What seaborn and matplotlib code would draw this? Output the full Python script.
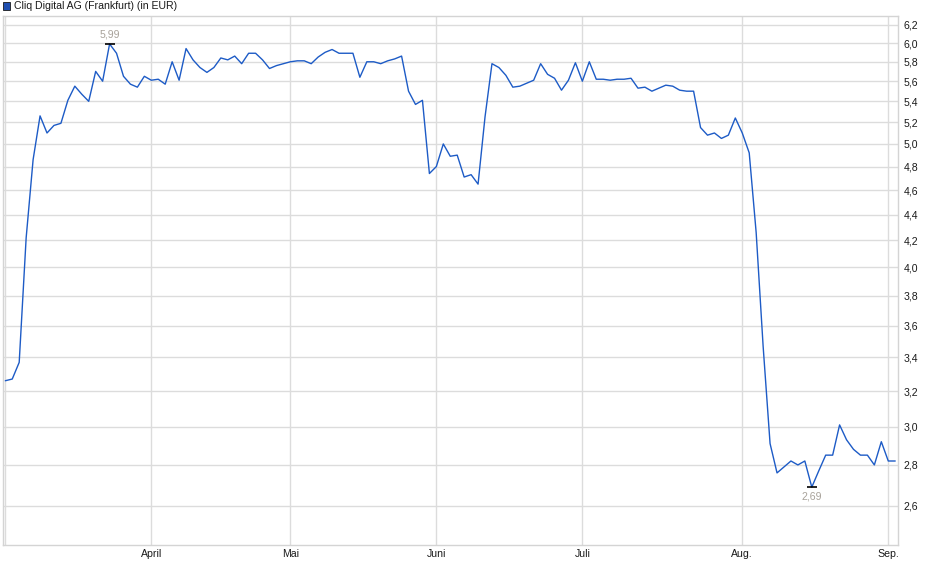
import numpy as np
import pandas as pd
import matplotlib
matplotlib.use("Agg")
import matplotlib.pyplot as plt
import seaborn as sns
from matplotlib.ticker import FixedLocator, NullLocator
from matplotlib.patches import Rectangle

# Schlusskurse (EUR), ein Wert pro Handelstag
prices = [3.26, 3.27, 3.37, 4.22, 4.86, 5.26, 5.10, 5.17, 5.19, 5.41,
          5.55, 5.47, 5.40, 5.70, 5.60, 5.99, 5.89, 5.65, 5.57, 5.54,
          5.65, 5.61, 5.62, 5.57, 5.80, 5.61, 5.94, 5.82, 5.74, 5.69,
          5.74, 5.84, 5.82, 5.86, 5.78, 5.89, 5.89, 5.82, 5.73, 5.76,
          5.78, 5.80, 5.81, 5.81, 5.78, 5.85, 5.90, 5.93, 5.89, 5.89,
          5.89, 5.64, 5.80, 5.80, 5.78, 5.81, 5.83, 5.86, 5.50, 5.37,
          5.41, 4.74, 4.80, 5.00, 4.89, 4.90, 4.71, 4.73, 4.65, 5.25,
          5.78, 5.74, 5.66, 5.54, 5.55, 5.58, 5.61, 5.78, 5.67, 5.63,
          5.51, 5.61, 5.79, 5.60, 5.80, 5.62, 5.62, 5.61, 5.62, 5.62,
          5.63, 5.53, 5.54, 5.50, 5.53, 5.56, 5.55, 5.51, 5.50, 5.50,
          5.15, 5.08, 5.10, 5.05, 5.08, 5.24, 5.10, 4.92, 4.26, 3.47,
          2.91, 2.76, 2.79, 2.82, 2.80, 2.82, 2.69, 2.77, 2.85, 2.85,
          3.01, 2.93, 2.88, 2.85, 2.85, 2.80, 2.92, 2.82, 2.82]

month_labels = ["April", "Mai", "Juni", "Juli", "Aug.", "Sep."]
month_start = [21, 41, 62, 83, 106, 127]   # index of first trading day
y_ticks = [2.6, 2.8, 3.0, 3.2, 3.4, 3.6, 3.8, 4.0, 4.2, 4.4,
           4.6, 4.8, 5.0, 5.2, 5.4, 5.6, 5.8, 6.0, 6.2]

df = pd.DataFrame({"tag": np.arange(len(prices)), "kurs": prices})

sns.set_style("white")
plt.rcParams["font.family"] = ["Liberation Sans", "DejaVu Sans"]

fig = plt.figure(figsize=(9.4, 5.79), dpi=100)
ax = fig.add_axes([3 / 940, 34 / 579, 895 / 940, 529 / 579])

sns.lineplot(data=df, x="tag", y="kurs", color="#1d5bc6", linewidth=1.0, ax=ax)

ax.set_yscale("log")
ax.set_ylim(2.423, 6.30)
ax.set_xlim(-0.33, 128.4)
ax.yaxis.set_major_locator(FixedLocator(y_ticks))
ax.yaxis.set_minor_locator(NullLocator())
ax.set_yticklabels([f"{t:.1f}".replace(".", ",") for t in y_ticks])
ax.yaxis.tick_right()
ax.set_xticks([0] + month_start)
ax.set_xticklabels([""] + month_labels)
ax.set_xlabel("")
ax.set_ylabel("")

ax.grid(True, color="#dcdcdc", linewidth=1.0)
ax.tick_params(axis="both", length=0, labelsize=7.6, colors="#1a1a1a")
ax.tick_params(axis="y", pad=4)
ax.tick_params(axis="x", pad=3)
for s in ax.spines.values():
    s.set_color("#d4d4d4")
    s.set_linewidth(1.0)

# hoch / tief markieren
imax = int(np.argmax(prices))
imin = int(np.argmin(prices))
for i, off, va in [(imax, 3, "bottom"), (imin, -3, "top")]:
    ax.plot(i, prices[i], marker="_", markersize=7, mew=1.2, color="black")
    ax.annotate(f"{prices[i]:.2f}".replace(".", ","), xy=(i, prices[i]),
                xytext=(0, off), textcoords="offset points", ha="center",
                va=va, fontsize=7.6, color="#a8a29a")

# Kopfzeile
fig.add_artist(Rectangle((3 / 940, 1 - 10 / 579), 7 / 940, 8 / 579,
                         transform=fig.transFigure, facecolor="#1f4fb0",
                         edgecolor="#1a1a1a", linewidth=0.6))
fig.text(14 / 940, 1 - 6 / 579, "Cliq Digital AG (Frankfurt) (in EUR)",
         fontsize=7.6, color="#1a1a1a", va="center", ha="left")

plt.savefig("out.png", dpi=100)
plt.close()
